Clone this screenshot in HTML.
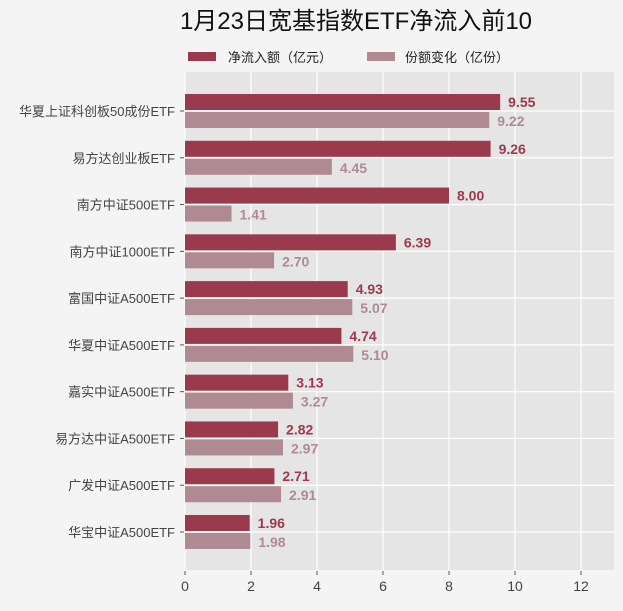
<!DOCTYPE html>
<html><head><meta charset="utf-8"><style>
body{margin:0;background:#f4f4f4;}
svg text{font-family:"Liberation Sans","Noto Sans CJK SC",sans-serif;}
</style></head><body>
<svg id="c" width="623" height="606" xmlns="http://www.w3.org/2000/svg">
<rect width="623" height="606" fill="#f4f4f4"/>
<text x="356" y="29" text-anchor="middle" font-size="24" fill="#111">1月23日宽基指数ETF净流入前10</text>
<rect x="188" y="52" width="28" height="9" fill="#9b3a4d"/>
<text x="228" y="62" font-size="13" fill="#222">净流入额（亿元）</text>
<rect x="367" y="52" width="28" height="9" fill="#b08a93"/>
<text x="405" y="62" font-size="13" fill="#222">份额变化（亿份）</text>
<g id="plot"></g>
</svg>
<script>
const categories=["华夏上证科创板50成份ETF","易方达创业板ETF","南方中证500ETF","南方中证1000ETF","富国中证A500ETF","华夏中证A500ETF","嘉实中证A500ETF","易方达中证A500ETF","广发中证A500ETF","华宝中证A500ETF"];
const netInflow=[9.55,9.26,8.00,6.39,4.93,4.74,3.13,2.82,2.71,1.96];
const shareChange=[9.22,4.45,1.41,2.70,5.07,5.10,3.27,2.97,2.91,1.98];
const xTicks=[0,2,4,6,8,10,12];
const NS="http://www.w3.org/2000/svg";
const g=document.getElementById('plot');
const L=185,R=614,T=72,B=570,xMax=13;
const x=v=>L+(v/xMax)*(R-L);
const yc=i=>111+i*(B-T-77)/(categories.length-1);
function mk(t,a){const e=document.createElementNS(NS,t);for(const k in a)e.setAttribute(k,a[k]);g.appendChild(e);return e;}
let e=mk('rect',{x:L,y:T,width:R-L,height:B-T,fill:'#e5e5e5'});


xTicks.forEach(t=>{
 let l=mk('line',{x1:x(t),x2:x(t),y1:T,y2:B,stroke:'#fff','stroke-width':1.2});
 
 
 let tk=mk('line',{x1:x(t),x2:x(t),y1:B+1,y2:B+5,stroke:'#555'});
 
 
 let tx=mk('text',{x:x(t),y:B+21,'text-anchor':'middle','font-size':14,fill:'#444'});
 tx.textContent=t;
 
 
});
categories.forEach((c,i)=>{
 const y=yc(i);
 let l=mk('line',{x1:L,x2:R,y1:y,y2:y,stroke:'#fff','stroke-width':1.2});
 
 
 let tk=mk('line',{x1:L-5,x2:L-1,y1:y,y2:y,stroke:'#555'});
 
 
 let lb=mk('text',{x:L-10,y:y+5,'text-anchor':'end','font-size':13,fill:'#444'});
 lb.textContent=c;
 
 
 let b1=mk('rect',{x:L,y:y-17,width:x(netInflow[i])-L,height:16,fill:'#9b3a4d'});
 
 
 let v1=mk('text',{x:x(netInflow[i])+8,y:y-4,'font-size':14,'font-weight':'bold',fill:'#9b3a4d'});
 v1.textContent=netInflow[i].toFixed(2);
 
 
 let b2=mk('rect',{x:L,y:y+1,width:x(shareChange[i])-L,height:16,fill:'#b08a93'});
 
 
 let v2=mk('text',{x:x(shareChange[i])+8,y:y+15,'font-size':14,'font-weight':'bold',fill:'#b08a93'});
 v2.textContent=shareChange[i].toFixed(2);
 
 
});
</script>
</body></html>
